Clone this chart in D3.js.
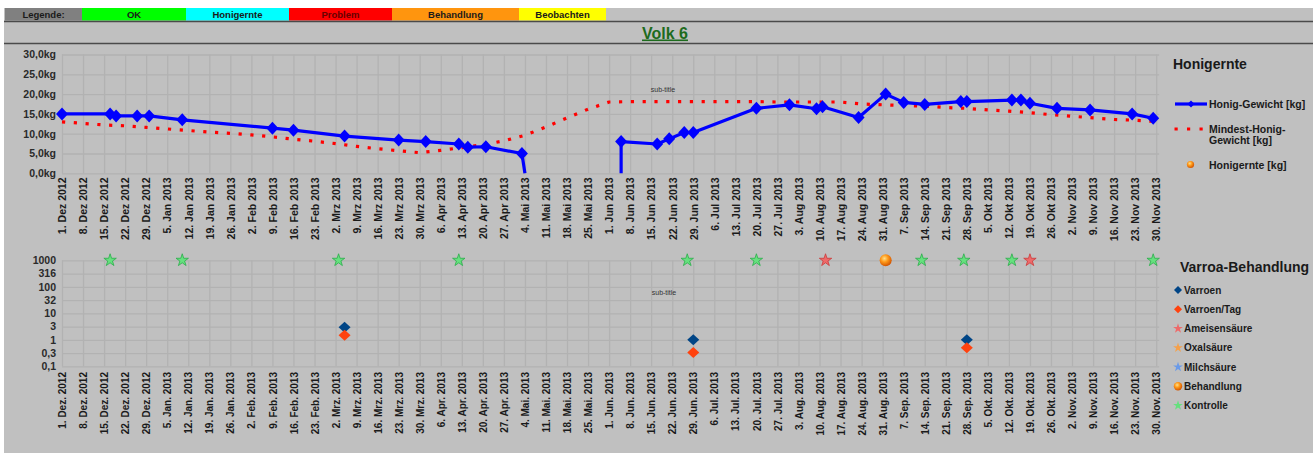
<!DOCTYPE html>
<html>
<head>
<meta charset="utf-8">
<script src="https://cdn.jsdelivr.net/npm/d3@7"></script>
<style>
  body { margin: 0; background: #fff; }
  svg { display: block; font-family: "Liberation Sans", Arial, sans-serif; }
</style>
</head>
<body>
<svg id="chart" width="1313" height="453"></svg>
<script>
// ---- data ----
const legendeLabels = ["Legende:", "OK", "Honigernte", "Problem", "Behandlung", "Beobachten"];
const legendeFarben = ["#808080", "#00ff00", "#00ffff", "#ff0000", "#ff950e", "#ffff00"];

// Honig-Gewicht [kg] (null = no value)
const honigDaten = ["2012-12-01","2012-12-17","2012-12-19","2012-12-26","2012-12-30","2013-01-10",
  "2013-02-09","2013-02-16","2013-03-05","2013-03-23","2013-04-01","2013-04-12","2013-04-15",
  "2013-04-21","2013-05-03","2013-05-04","2013-05-20","2013-06-05","2013-06-05","2013-06-17",
  "2013-06-21","2013-06-26","2013-06-29","2013-07-20","2013-07-31","2013-08-09","2013-08-11",
  "2013-08-23","2013-09-01","2013-09-07","2013-09-14","2013-09-26","2013-09-28","2013-10-13",
  "2013-10-16","2013-10-19","2013-10-28","2013-11-08","2013-11-22","2013-11-29"];
const honigWerte = [15.0, 15.0, 14.5, 14.5, 14.5, 13.5,
  11.4, 10.9, 9.4, 8.4, 8.0, 7.4, 6.6,
  6.7, 5.0, 0, null, 0, 8.0, 7.4,
  8.7, 10.3, 10.3, 16.4, 17.3, 16.3, 16.8,
  14.1, 20.0, 17.9, 17.4, 18.1, 18.1, 18.5,
  18.5, 17.7, 16.4, 16.0, 15.0, 13.9];

// Mindest-Honig-Gewicht [kg], one value per week starting 1. Dez 2012
const mindestWerte = [13.0, 12.6, 12.2, 12.0, 11.6, 11.2, 10.8, 10.4, 10.1, 9.7,
  9.2, 8.6, 8.1, 7.5, 6.8, 6.2, 5.7, 5.2, 5.8, 6.5,
  7.2, 8.2, 9.6, 11.7, 14.0, 16.2, 18.0, 18.1, 18.1, 18.1,
  18.1, 18.1, 18.1, 18.1, 18.0, 18.0, 18.0, 18.0, 17.5, 17.3,
  17.1, 17.0, 16.6, 16.4, 16.0, 15.7, 15.3, 14.8, 14.4, 14.0,
  13.6, 13.4, 13.1];

// Varroa
const kontrolleDaten = ["2012-12-17","2013-01-10","2013-03-03","2013-04-12","2013-06-27",
  "2013-07-20","2013-09-13","2013-09-27","2013-10-13","2013-11-29"];
const ameisenDaten = ["2013-08-12","2013-10-19"];
const behandlungDaten = ["2013-09-01"];
const varroenDaten = ["2013-03-05","2013-06-29","2013-09-28"];
const varroenWerte = [3, 1, 1];
const varroenTagWerte = [1.5, 0.33, 0.5];

const kgTicks = [0, 5, 10, 15, 20, 25, 30];
const varroaTicks = [0.1, 0.316, 1, 3.16, 10, 31.6, 100, 316, 1000];
const varroaTickLabels = ["0,1", "0,3", "1", "3", "10", "32", "100", "316", "1000"];
const monate = ["Jan","Feb","Mrz","Apr","Mai","Jun","Jul","Aug","Sep","Okt","Nov","Dez"];

const varroaLegende = ["Varroen", "Varroen/Tag", "Ameisensäure", "Oxalsäure", "Milchsäure", "Behandlung", "Kontrolle"];

// ---- setup ----
const parse = d3.utcParse("%Y-%m-%d");
const start = parse("2012-12-01"), ende = parse("2013-12-01");
const wochen = d3.utcSaturday.range(start, ende);

const locOhne = d3.timeFormatLocale({dateTime:"%c", date:"%d.%m.%Y", time:"%H:%M:%S", periods:["",""],
  days:["","","","","","",""], shortDays:["","","","","","",""], months:monate, shortMonths:monate});
const locMit = d3.timeFormatLocale({dateTime:"%c", date:"%d.%m.%Y", time:"%H:%M:%S", periods:["",""],
  days:["","","","","","",""], shortDays:["","","","","","",""], months:monate, shortMonths:monate.map(m => m + ".")});
const fmtOben = locOhne.utcFormat("%-d. %b %Y");
const fmtUnten = locMit.utcFormat("%-d. %b %Y");

const svg = d3.select("#chart");
const gridColor = "#b2b2b2";

const defs = svg.append("defs");
const grad = defs.append("radialGradient").attr("id", "kugel").attr("cx", "40%").attr("cy", "35%").attr("r", "65%");
grad.append("stop").attr("offset", "0%").attr("stop-color", "#ffe08a");
grad.append("stop").attr("offset", "45%").attr("stop-color", "#ff9a1a");
grad.append("stop").attr("offset", "100%").attr("stop-color", "#d25400");

// background
svg.append("rect").attr("x", 4).attr("y", 8).attr("width", 1309).attr("height", 445).attr("fill", "#c0c0c0");

// header legend row
const cellX = [5, 82, 186, 289, 392, 519, 606];
legendeLabels.forEach((t, i) => {
  svg.append("rect").attr("x", cellX[i]).attr("y", 8).attr("width", cellX[i + 1] - cellX[i]).attr("height", 12.5)
    .attr("fill", legendeFarben[i]);
  svg.append("text").attr("x", (cellX[i] + cellX[i + 1]) / 2).attr("y", 17.8)
    .attr("text-anchor", "middle").attr("font-size", 9.5).attr("font-weight", "bold")
    .attr("fill", i === 3 ? "#6a0000" : "#1a1a1a").text(t);
});
[21.5, 43.5].forEach(y => svg.append("line").attr("x1", 4).attr("x2", 1313).attr("y1", y).attr("y2", y)
  .attr("stroke", "#4a4a4a").attr("stroke-width", 1.6));
svg.append("text").attr("x", 665).attr("y", 38.5).attr("text-anchor", "middle")
  .attr("font-size", 16).attr("font-weight", "bold").attr("fill", "#1d6b1d")
  .attr("text-decoration", "underline").text("Volk 6");

// ---- scales ----
const x = d3.scaleUtc().domain([start, ende]).range([62, 1159.2]);
const yKg = d3.scaleLinear().domain([0, 30]).range([173.3, 54.5]);
const yLog = d3.scaleLog().domain([0.1, 1000]).range([366.3, 260.3]);

function grid(yScale, ticks, top, bottom) {
  const g = svg.append("g");
  g.append("g").attr("transform", `translate(0,${bottom})`)
    .call(d3.axisBottom(x).tickValues(wochen).tickSize(-(bottom - top)).tickFormat(""))
    .call(a => a.select(".domain").remove())
    .selectAll("line").attr("stroke", gridColor).attr("stroke-width", 1.3);
  g.append("g").attr("transform", "translate(62,0)")
    .call(d3.axisLeft(yScale).tickValues(ticks).tickSize(-(1159.2 - 62)).tickFormat(""))
    .call(a => a.select(".domain").remove())
    .selectAll("line").attr("stroke", gridColor).attr("stroke-width", 1.3);
}

function xLabels(y, fmt, size) {
  svg.append("g").attr("transform", `translate(0,${y})`)
    .call(d3.axisBottom(x).tickValues(wochen).tickSize(0).tickFormat(fmt))
    .call(a => a.select(".domain").remove())
    .selectAll("text")
    .attr("transform", "rotate(-90)").attr("x", 0).attr("y", 0).attr("dy", "0.36em")
    .style("text-anchor", "end").attr("font-size", size).attr("font-weight", "bold")
    .attr("font-family", "Liberation Sans, Arial, sans-serif").attr("fill", "#1a1a1a");
}

function yLabels(yScale, ticks, fmt) {
  svg.append("g").attr("transform", "translate(62,0)")
    .call(d3.axisLeft(yScale).tickValues(ticks).tickSize(0).tickPadding(6).tickFormat(fmt))
    .call(a => a.select(".domain").remove())
    .selectAll("text").attr("font-size", 10.5).attr("font-weight", "bold")
    .attr("font-family", "Liberation Sans, Arial, sans-serif").attr("fill", "#2a2a2a");
}

const diamond = (w, h) => `M0,${-h}L${w},0L0,${h}L${-w},0Z`;
const star = d3.symbol().type(d3.symbolStar);

// ---- top chart: Honigernte ----
grid(yKg, kgTicks, 54.5, 173.3);
yLabels(yKg, kgTicks, d => d3.format(".1f")(d).replace(".", ",") + "kg");
xLabels(177.5, fmtOben, 10.5);

svg.append("text").attr("x", 663).attr("y", 92).attr("text-anchor", "middle")
  .attr("font-size", 7).attr("fill", "#333").text("sub-title");

const mindest = mindestWerte.map((v, i) => ({d: wochen[i], v}));
svg.append("path").datum(mindest)
  .attr("d", d3.line().x(p => x(p.d)).y(p => yKg(p.v)))
  .attr("fill", "none").attr("stroke", "#ff0000").attr("stroke-width", 3.2)
  .attr("stroke-dasharray", "3.2,8.6");

const honig = honigDaten.map((d, i) => ({d: parse(d), v: honigWerte[i]}));
svg.append("path").datum(honig)
  .attr("d", d3.line().defined(p => p.v !== null).x(p => x(p.d)).y(p => yKg(p.v)))
  .attr("fill", "none").attr("stroke", "#0000ff").attr("stroke-width", 3.2).attr("stroke-linejoin", "round");
svg.append("g").selectAll("path").data(honig.filter(p => p.v > 0)).join("path")
  .attr("transform", p => `translate(${x(p.d)},${yKg(p.v)})`)
  .attr("d", diamond(6, 6.5)).attr("fill", "#0000ff");

// legend top
svg.append("text").attr("x", 1173).attr("y", 69).attr("font-size", 14).attr("font-weight", "bold")
  .attr("fill", "#1a1a1a").text("Honigernte");
svg.append("line").attr("x1", 1175).attr("x2", 1207).attr("y1", 104).attr("y2", 104)
  .attr("stroke", "#0000ff").attr("stroke-width", 3.2);
svg.append("path").attr("transform", "translate(1191,104)").attr("d", diamond(3.5, 3.5)).attr("fill", "#0000ff");
svg.append("line").attr("x1", 1174.5).attr("x2", 1204).attr("y1", 129).attr("y2", 129)
  .attr("stroke", "#ff0000").attr("stroke-width", 3.2).attr("stroke-dasharray", "3.2,9.3");
svg.append("circle").attr("cx", 1190.5).attr("cy", 164.5).attr("r", 3.6).attr("fill", "url(#kugel)");
const lt = svg.append("g").attr("font-size", 10.5).attr("font-weight", "bold").attr("fill", "#1a1a1a");
lt.append("text").attr("x", 1209).attr("y", 108).text("Honig-Gewicht [kg]");
lt.append("text").attr("x", 1209).attr("y", 133).text("Mindest-Honig-");
lt.append("text").attr("x", 1209).attr("y", 144).text("Gewicht [kg]");
lt.append("text").attr("x", 1209).attr("y", 168.5).text("Honigernte [kg]");

// ---- bottom chart: Varroa ----
grid(yLog, varroaTicks, 260.3, 366.3);
yLabels(yLog, varroaTicks, (d, i) => varroaTickLabels[i]);
xLabels(372, fmtUnten, 10);

svg.append("text").attr("x", 664).attr("y", 295).attr("text-anchor", "middle")
  .attr("font-size", 7).attr("fill", "#333").text("sub-title");

const bottomMarks = svg.append("g");
bottomMarks.selectAll(".kontrolle").data(kontrolleDaten).join("path")
  .attr("transform", d => `translate(${x(parse(d))},${yLog(1000)})`)
  .attr("d", star.size(48)()).attr("fill", "#66e07e").attr("stroke", "#2aae4a").attr("stroke-width", 0.8);
bottomMarks.selectAll(".ameise").data(ameisenDaten).join("path")
  .attr("transform", d => `translate(${x(parse(d))},${yLog(1000)})`)
  .attr("d", star.size(48)()).attr("fill", "#ee6a6a").attr("stroke", "#cc3a3a").attr("stroke-width", 0.8);
bottomMarks.selectAll(".behandlung").data(behandlungDaten).join("circle")
  .attr("cx", d => x(parse(d))).attr("cy", yLog(1000)).attr("r", 6).attr("fill", "url(#kugel)");
varroenDaten.forEach((d, i) => {
  bottomMarks.append("path").attr("transform", `translate(${x(parse(d))},${yLog(varroenWerte[i])})`)
    .attr("d", diamond(6, 5.5)).attr("fill", "#004586");
  bottomMarks.append("path").attr("transform", `translate(${x(parse(d))},${yLog(varroenTagWerte[i])})`)
    .attr("d", diamond(6, 5.5)).attr("fill", "#ff420e");
});

// legend bottom
svg.append("text").attr("x", 1180).attr("y", 272).attr("font-size", 14).attr("font-weight", "bold")
  .attr("fill", "#1a1a1a").text("Varroa-Behandlung");
const legY = d3.scalePoint().domain(varroaLegende).range([290, 405.5]);
const lg = svg.append("g").selectAll("g").data(varroaLegende).join("g")
  .attr("transform", d => `translate(1178,${legY(d)})`);
lg.append("path").attr("d", (d, i) => {
    if (i < 2) return diamond(4, 4);
    if (i === 5) return "";
    return star.size(30)();
  })
  .attr("fill", (d, i) => ["#004586", "#ff420e", "#ee6a6a", "#f5a04a", "#6a9ae8", "none", "#66e07e"][i]);
lg.filter((d, i) => i === 5).append("circle").attr("r", 4.2).attr("fill", "url(#kugel)");
lg.append("text").attr("x", 6).attr("y", 3.6).attr("font-size", 10).attr("font-weight", "bold")
  .attr("fill", "#1a1a1a").text(d => d);
</script>
</body>
</html>
